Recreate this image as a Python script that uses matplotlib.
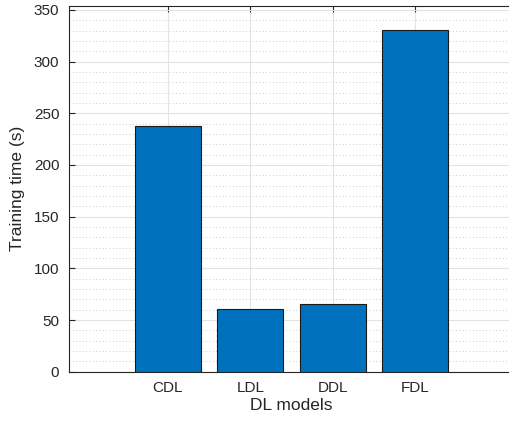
import matplotlib
matplotlib.use("Agg")
import matplotlib.pyplot as plt
from matplotlib.ticker import MultipleLocator

categories = ["CDL", "LDL", "DDL", "FDL"]
training_time = [237.5, 60.6, 65.2, 330.7]

plt.rcParams['font.family'] = ['Liberation Sans', 'DejaVu Sans']

fig = plt.figure(figsize=(5.09, 4.22), dpi=100, facecolor='white')
ax = fig.add_axes([69/509, (422-371.7)/422, (509-69)/509 + 0.01, (371.7-5.7)/422])
ax.set_facecolor('white')

pos = list(range(1, len(categories) + 1))
ax.bar(pos, training_time, width=0.8, color='#0072BD', edgecolor='#1a1a1a', linewidth=0.8, zorder=3)

ax.set_xlim(-0.2, 5.2)
ax.set_ylim(0, 354)
ax.set_xticks(pos)
ax.set_xticklabels(categories)
ax.yaxis.set_major_locator(MultipleLocator(50))
ax.yaxis.set_minor_locator(MultipleLocator(10))

ax.grid(True, which='major', color='#e3e3e3', linewidth=0.8, zorder=0)
ax.grid(True, which='minor', axis='y', color='#bdbdbd', linestyle=(0, (1, 3)), linewidth=0.6, zorder=0)
ax.set_axisbelow(True)

for s in ax.spines.values():
    s.set_color('#262626')
    s.set_linewidth(0.8)
ax.spines['right'].set_visible(False)
ax.tick_params(which='major', direction='in', length=4, top=True, right=False,
               colors='#262626', labelsize=11, width=0.8)
ax.tick_params(which='minor', length=0, top=False, right=False, left=False, bottom=False)
ax.tick_params(axis='x', pad=7)
ax.tick_params(axis='y', pad=7)

ax.set_xlabel("DL models", fontsize=12.5, color='#262626', labelpad=2)
ax.set_ylabel("Training time (s)", fontsize=12.5, color='#262626', labelpad=6)

fig.savefig("out.png", dpi=100, facecolor='white')
